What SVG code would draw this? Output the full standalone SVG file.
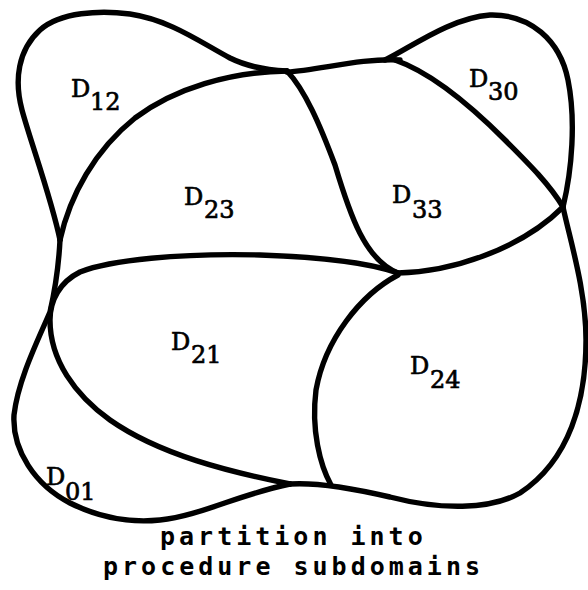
<svg xmlns="http://www.w3.org/2000/svg" width="588" height="590" viewBox="0 0 588 590">
<style>
.b{fill:none;stroke:#000;stroke-width:5.4;stroke-linecap:round;stroke-linejoin:round}
.lbl{font-family:"DejaVu Serif","Liberation Serif",serif;font-size:24px;fill:#000;stroke:#000;stroke-width:0.7}
.sub{font-size:24px}
.cap{font-family:"DejaVu Sans Mono","Liberation Mono",monospace;font-weight:bold;font-size:25px;letter-spacing:4px;fill:#000}
</style>
<rect width="588" height="590" fill="#fff"/>
<g id="boundaries">
<path class="b" d="M60,240 C52,200 30,140 22,110 C14,80 18,50 40,30 C60,12 100,10 130,14 C170,20 200,42 230,58 C250,68 270,70 287,71"/>
<path class="b" d="M60,240 C59,260 55,290 50,312 C38,340 18,380 14,415 C12,450 35,485 70,503 C100,518 130,523 160,520 C200,516 240,494 290,484"/>
<path class="b" d="M60,240 C70,195 95,150 135,118 C175,88 230,72 287,71"/>
<path class="b" d="M287,72 C320,70 360,58 400,60"/>
<path class="b" d="M385,60 C410,48 450,18 490,15 C530,14 560,40 568,80 C576,120 572,170 563,207"/>
<path class="b" d="M395,60 C430,72 470,105 505,140 C530,165 550,185 563,207"/>
<path class="b" d="M287,71 C305,90 320,125 335,165 C350,215 365,260 398,273"/>
<path class="b" d="M398,273 C450,272 520,250 563,207"/>
<path class="b" d="M563,207 C570,240 586,290 586,340 C586,400 570,460 520,493 C490,510 440,510 390,497 C360,490 320,482 290,484"/>
<path class="b" d="M398,273 C370,263 320,257 260,255 C180,253 110,260 80,272 C60,282 50,300 50,320 C50,360 75,395 110,420 C160,455 230,472 290,484"/>
<path class="b" d="M398,275 C360,295 325,340 316,390 C311,430 320,465 331,485"/>
</g>
<g id="D12"><text class="lbl" x="71" y="97">D<tspan class="sub" x="90" y="110">12</tspan></text></g>
<g id="D23"><text class="lbl" x="184" y="205">D<tspan class="sub" x="204" y="218">23</tspan></text></g>
<g id="D33"><text class="lbl" x="392" y="203">D<tspan class="sub" x="412" y="218">33</tspan></text></g>
<g id="D30"><text class="lbl" x="469" y="87">D<tspan class="sub" x="488" y="100">30</tspan></text></g>
<g id="D21"><text class="lbl" x="171" y="350">D<tspan class="sub" x="191" y="363">21</tspan></text></g>
<g id="D24"><text class="lbl" x="410" y="374">D<tspan class="sub" x="430" y="388">24</tspan></text></g>
<g id="D01"><text class="lbl" x="46" y="485">D<tspan class="sub" x="65" y="500">01</tspan></text></g>
<g id="caption">
<text class="cap" x="160" y="545">partition into</text>
<text class="cap" x="103" y="575">procedure subdomains</text>
</g>
</svg>
